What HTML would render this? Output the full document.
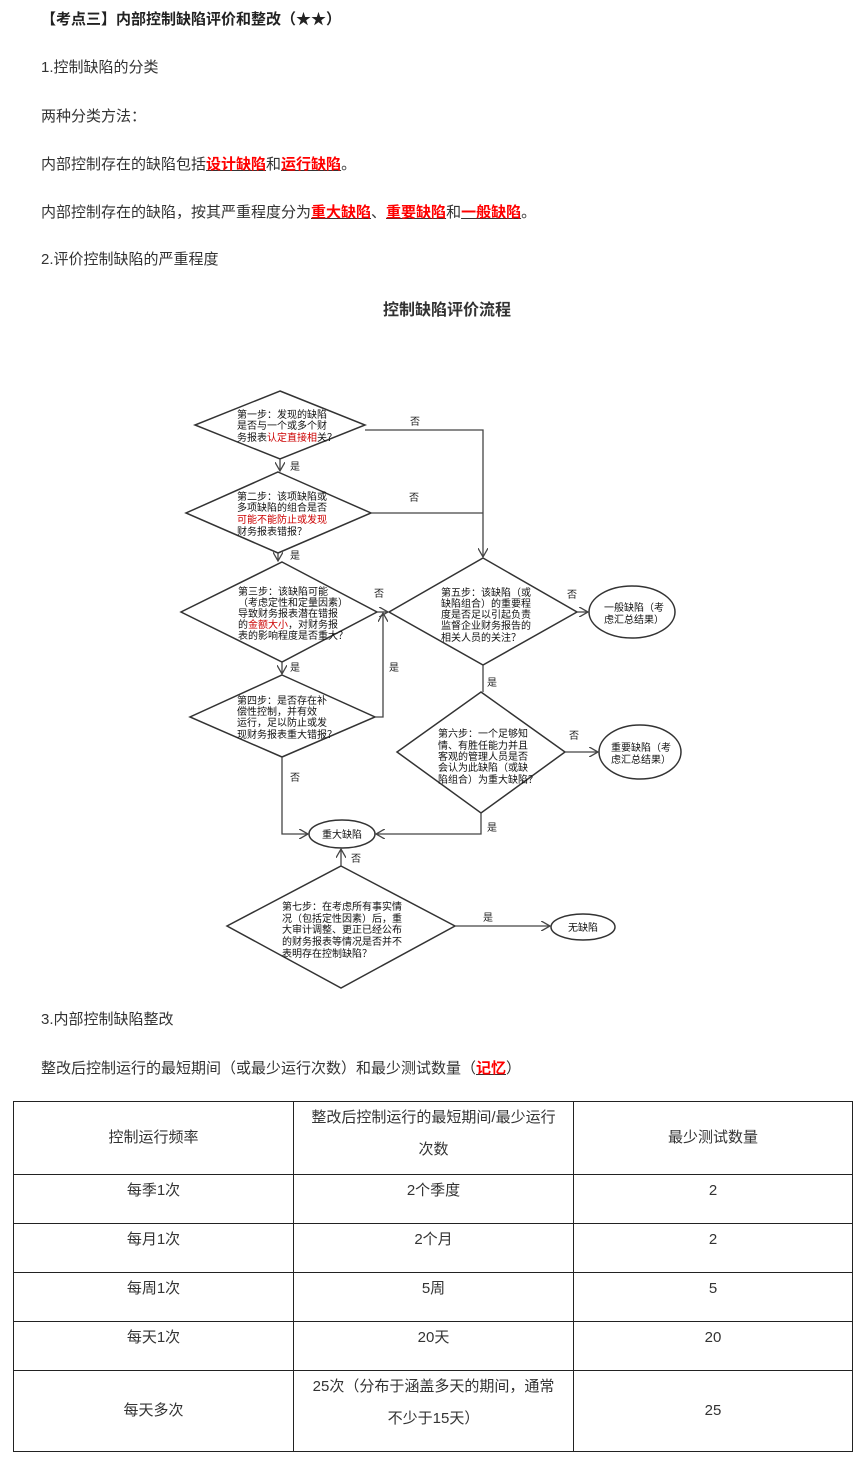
<!DOCTYPE html>
<html><head><meta charset="utf-8"><style>
body{margin:0;width:866px;height:1461px;background:#fff;position:relative;overflow:hidden;font-family:"Liberation Sans","Noto Sans CJK SC",sans-serif;color:#333;}
.t{position:absolute;left:41px;font-size:15px;white-space:nowrap;line-height:20px;}
.r{color:#f00;font-weight:bold;text-decoration:underline;text-decoration-color:#333;}
table{position:absolute;left:13px;top:1101px;width:840px;border-collapse:collapse;font-size:15px;}
td{border:1.5px solid #222;text-align:center;vertical-align:top;padding:0 8px;line-height:32px;}
td.m{padding:0 12px;}
</style></head><body>
<div class="t" style="top:10px;color:#222;font-weight:bold;">【考点三】内部控制缺陷评价和整改（★★）</div>
<div class="t" style="top:58px">1.控制缺陷的分类</div>
<div class="t" style="top:107px">两种分类方法：</div>
<div class="t" style="top:155px">内部控制存在的缺陷包括<span class="r">设计缺陷</span>和<span class="r">运行缺陷</span>。</div>
<div class="t" style="top:203px">内部控制存在的缺陷，按其严重程度分为<span class="r">重大缺陷</span>、<span class="r">重要缺陷</span>和<span class="r">一般缺陷</span>。</div>
<div class="t" style="top:250px">2.评价控制缺陷的严重程度</div>
<svg style="position:absolute;left:0;top:0" width="866" height="1000" font-family="Liberation Sans,Noto Sans CJK SC,sans-serif">
<defs><marker id="a" markerWidth="8" markerHeight="8" refX="7" refY="4" orient="auto"><path d="M0,0 L7,4 L0,8" fill="none" stroke="#444" stroke-width="1"/></marker></defs>
<text x="447" y="315" font-size="16" font-weight="bold" text-anchor="middle" fill="#333">控制缺陷评价流程</text>
<g fill="none" stroke="#333" stroke-width="1.5">
<polygon points="280,391 365,425 280,459 195,425"/>
<polygon points="278,472 371,513 278,553 186,513"/>
<polygon points="282,562 377,612 282,662 181,612"/>
<polygon points="282,675 375,717 282,757 190,717"/>
<polygon points="483,558 577,612 483,665 389,612"/>
<polygon points="481,692 565,752 481,813 397,752"/>
<polygon points="341,866 455,926 341,988 227,926"/>
<ellipse cx="632" cy="612" rx="43" ry="26"/>
<ellipse cx="640" cy="752" rx="41" ry="27"/>
<ellipse cx="342" cy="834" rx="33" ry="14"/>
<ellipse cx="583" cy="927" rx="32" ry="13"/>
</g>
<g fill="none" stroke="#444" stroke-width="1.3">
<path d="M280,459 V471" marker-end="url(#a)"/>
<path d="M278,553 V561" marker-end="url(#a)"/>
<path d="M282,662 V674" marker-end="url(#a)"/>
<path d="M365,430 H483 V557" marker-end="url(#a)"/>
<path d="M371,513 H483"/>
<path d="M377,612 H388" marker-end="url(#a)"/>
<path d="M375,717 H383 V613" marker-end="url(#a)"/>
<path d="M282,757 V834 H308" marker-end="url(#a)"/>
<path d="M483,665 V692"/>
<path d="M577,612 H588" marker-end="url(#a)"/>
<path d="M565,752 H598" marker-end="url(#a)"/>
<path d="M481,813 V834 H376" marker-end="url(#a)"/>
<path d="M341,866 V849" marker-end="url(#a)"/>
<path d="M455,926 H550" marker-end="url(#a)"/>
</g>
<g font-size="10" fill="#222">
<text x="410" y="425">否</text><text x="290" y="470">是</text>
<text x="409" y="501">否</text><text x="290" y="559">是</text>
<text x="374" y="597">否</text><text x="290" y="671">是</text>
<text x="389" y="671">是</text><text x="290" y="781">否</text>
<text x="567" y="598">否</text><text x="487" y="686">是</text>
<text x="569" y="739">否</text><text x="487" y="831">是</text>
<text x="351" y="862">否</text><text x="483" y="921">是</text>
</g>
<g font-size="10" fill="#111">
<text x="237" y="418">第一步：发现的缺陷</text>
<text x="237" y="429">是否与一个或多个财</text>
<text x="237" y="441">务报表<tspan fill="#c00">认定直接相</tspan>关？</text>
<text x="237" y="500">第二步：该项缺陷或</text>
<text x="237" y="511">多项缺陷的组合是否</text>
<text x="237" y="523" fill="#c00">可能不能防止或发现</text>
<text x="237" y="535">财务报表错报？</text>
<text x="238" y="595">第三步：该缺陷可能</text>
<text x="238" y="606">（考虑定性和定量因素）</text>
<text x="238" y="617">导致财务报表潜在错报</text>
<text x="238" y="628">的<tspan fill="#c00">金额大小</tspan>，对财务报</text>
<text x="238" y="639">表的影响程度是否重大？</text>
<text x="237" y="704">第四步：是否存在补</text>
<text x="237" y="715">偿性控制，并有效</text>
<text x="237" y="726">运行，足以防止或发</text>
<text x="237" y="738">现财务报表重大错报？</text>
<text x="441" y="596">第五步：该缺陷（或</text>
<text x="441" y="607">缺陷组合）的重要程</text>
<text x="441" y="618">度是否足以引起负责</text>
<text x="441" y="629">监督企业财务报告的</text>
<text x="441" y="641">相关人员的关注？</text>
<text x="438" y="737">第六步：一个足够知</text>
<text x="438" y="749">情、有胜任能力并且</text>
<text x="438" y="760">客观的管理人员是否</text>
<text x="438" y="771">会认为此缺陷（或缺</text>
<text x="438" y="783">陷组合）为重大缺陷？</text>
<text x="282" y="910">第七步：在考虑所有事实情</text>
<text x="282" y="922">况（包括定性因素）后，重</text>
<text x="282" y="933">大审计调整、更正已经公布</text>
<text x="282" y="945">的财务报表等情况是否并不</text>
<text x="282" y="957">表明存在控制缺陷？</text>
<text x="604" y="611">一般缺陷（考</text>
<text x="604" y="623">虑汇总结果）</text>
<text x="611" y="751">重要缺陷（考</text>
<text x="611" y="763">虑汇总结果）</text>
<text x="342" y="838" text-anchor="middle">重大缺陷</text>
<text x="583" y="931" text-anchor="middle">无缺陷</text>
</g>
</svg>
<div class="t" style="top:1010px">3.内部控制缺陷整改</div>
<div class="t" style="top:1059px">整改后控制运行的最短期间（或最少运行次数）和最少测试数量（<span class="r">记忆</span>）</div>
<table>
<tr style="height:73px"><td style="width:263px;vertical-align:middle">控制运行频率</td><td class="m" style="width:255px">整改后控制运行的最短期间/最少运行次数</td><td style="vertical-align:middle">最少测试数量</td></tr>
<tr style="height:49px"><td>每季1次</td><td class="m">2个季度</td><td>2</td></tr>
<tr style="height:49px"><td>每月1次</td><td class="m">2个月</td><td>2</td></tr>
<tr style="height:49px"><td>每周1次</td><td class="m">5周</td><td>5</td></tr>
<tr style="height:49px"><td>每天1次</td><td class="m">20天</td><td>20</td></tr>
<tr style="height:81px"><td style="vertical-align:middle">每天多次</td><td class="m">25次（分布于涵盖多天的期间，通常<br>不少于15天）</td><td style="vertical-align:middle">25</td></tr>
</table>
</body></html>
